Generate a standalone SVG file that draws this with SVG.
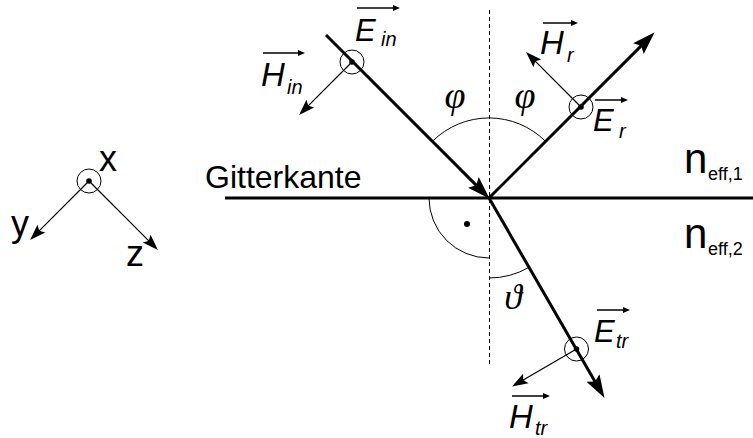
<svg xmlns="http://www.w3.org/2000/svg" width="753" height="438" viewBox="0 0 753 438">
<defs>
<marker id="big" markerUnits="userSpaceOnUse" markerWidth="24" markerHeight="16" refX="12" refY="8" orient="auto" overflow="visible"><path d="M0,0.5 L23,8 L0,15.5 L4,8 Z" fill="#000"/></marker>
<marker id="small" markerUnits="userSpaceOnUse" markerWidth="18" markerHeight="12" refX="8" refY="6" orient="auto" overflow="visible"><path d="M0,0.5 L16,6 L0,11.5 L3,6 Z" fill="#000"/></marker>
<marker id="tiny" markerUnits="userSpaceOnUse" markerWidth="8" markerHeight="6" refX="5" refY="3" orient="auto" overflow="visible"><path d="M0,0 L7,3 L0,6 Z" fill="#000"/></marker>
</defs>
<style>
.thick{stroke:#000;stroke-width:3;fill:none}
.thin{stroke:#000;stroke-width:1.2;fill:none}
.vec{stroke:#000;stroke-width:1.5;fill:none}
.ring{stroke:#000;stroke-width:1;fill:none}
.arc{stroke:#000;stroke-width:1;fill:none}
.dash{stroke:#000;stroke-width:1;stroke-dasharray:4,3;fill:none}
.lbl{font-family:"Liberation Sans",Arial,sans-serif;fill:#000}
.it{font-style:italic}
.greek{font-family:"Liberation Serif","Times New Roman",serif;font-style:italic;fill:#000}
</style>
<rect width="753" height="438" fill="#fff"/>

<g id="interface">
<line class="thick" x1="225" y1="198" x2="753" y2="198"/>
<text class="lbl" x="205" y="188" font-size="32">Gitterkante</text>
<text class="lbl" x="684" y="173" font-size="42">n</text>
<text class="lbl" x="708" y="180" font-size="18">eff,1</text>
<text class="lbl" x="684" y="248" font-size="42">n</text>
<text class="lbl" x="708" y="255" font-size="18">eff,2</text>
</g>

<g id="normal">
<line class="dash" x1="489.5" y1="10" x2="489.5" y2="366"/>
</g>

<g id="angles">
<path class="arc" d="M432.4,141.4 A80,80 0 0 1 545.6,141.4"/>
<path class="arc" d="M429,198 A60,60 0 0 0 489,258"/>
<circle cx="467" cy="224" r="3" fill="#000"/>
<path class="arc" d="M489,278 A80,80 0 0 0 529,267.3"/>
<text class="greek" x="455" y="108" font-size="38" text-anchor="middle">φ</text>
<text class="greek" x="525" y="108" font-size="38" text-anchor="middle">φ</text>
<text class="greek" x="513" y="309" font-size="36" text-anchor="middle">ϑ</text>
</g>

<g id="connectors">
<line class="thick" x1="326" y1="35" x2="481.9" y2="190.9" marker-end="url(#big)"/>
<line class="thick" x1="489" y1="198" x2="646.9" y2="40.1" marker-end="url(#big)"/>
<line class="thick" x1="489" y1="198" x2="599" y2="388.5" marker-end="url(#big)"/>
</g>

<g id="incident-field">
<circle class="ring" cx="352" cy="62" r="12"/>
<circle cx="352" cy="62" r="2.8" fill="#000"/>
<line class="thin" x1="352" y1="62" x2="304.7" y2="109.3" marker-end="url(#small)"/>
<line class="vec" x1="357" y1="8" x2="398" y2="8" marker-end="url(#tiny)"/>
<text class="lbl it" x="355" y="41" font-size="31">E</text>
<text class="lbl it" x="381" y="46" font-size="20">in</text>
<line class="vec" x1="263" y1="53" x2="303" y2="53" marker-end="url(#tiny)"/>
<text class="lbl it" x="261" y="86" font-size="33">H</text>
<text class="lbl it" x="287" y="94" font-size="20">in</text>
</g>

<g id="reflected-field">
<circle class="ring" cx="581" cy="107" r="12"/>
<circle cx="581" cy="107" r="2.8" fill="#000"/>
<line class="thin" x1="581" y1="107" x2="531.7" y2="57.7" marker-end="url(#small)"/>
<line class="vec" x1="543" y1="23" x2="576" y2="23" marker-end="url(#tiny)"/>
<text class="lbl it" x="540" y="54" font-size="33">H</text>
<text class="lbl it" x="567" y="62" font-size="20">r</text>
<line class="vec" x1="595" y1="100" x2="626" y2="100" marker-end="url(#tiny)"/>
<text class="lbl it" x="593" y="131" font-size="31">E</text>
<text class="lbl it" x="619" y="138" font-size="20">r</text>
</g>

<g id="transmitted-field">
<circle class="ring" cx="576.5" cy="349" r="12"/>
<circle cx="576.5" cy="349" r="2.8" fill="#000"/>
<line class="thin" x1="576.5" y1="349" x2="518.9" y2="382.5" marker-end="url(#small)"/>
<line class="vec" x1="597" y1="310" x2="628" y2="310" marker-end="url(#tiny)"/>
<text class="lbl it" x="594" y="342" font-size="31">E</text>
<text class="lbl it" x="616" y="348" font-size="20">tr</text>
<line class="vec" x1="512" y1="396" x2="548" y2="396" marker-end="url(#tiny)"/>
<text class="lbl it" x="509" y="428" font-size="33">H</text>
<text class="lbl it" x="535" y="435" font-size="20">tr</text>
</g>

<g id="coordinate-system">
<circle class="ring" cx="89" cy="181" r="12"/>
<circle cx="89" cy="181" r="2.8" fill="#000"/>
<line class="thin" x1="89" y1="181" x2="35.7" y2="234.3" marker-end="url(#small)"/>
<line class="thin" x1="89" y1="181" x2="152.3" y2="244.3" marker-end="url(#small)"/>
<text class="lbl" x="99" y="171" font-size="36">x</text>
<text class="lbl" x="11" y="236" font-size="36">y</text>
<text class="lbl" x="126" y="266" font-size="36">z</text>
</g>
</svg>
